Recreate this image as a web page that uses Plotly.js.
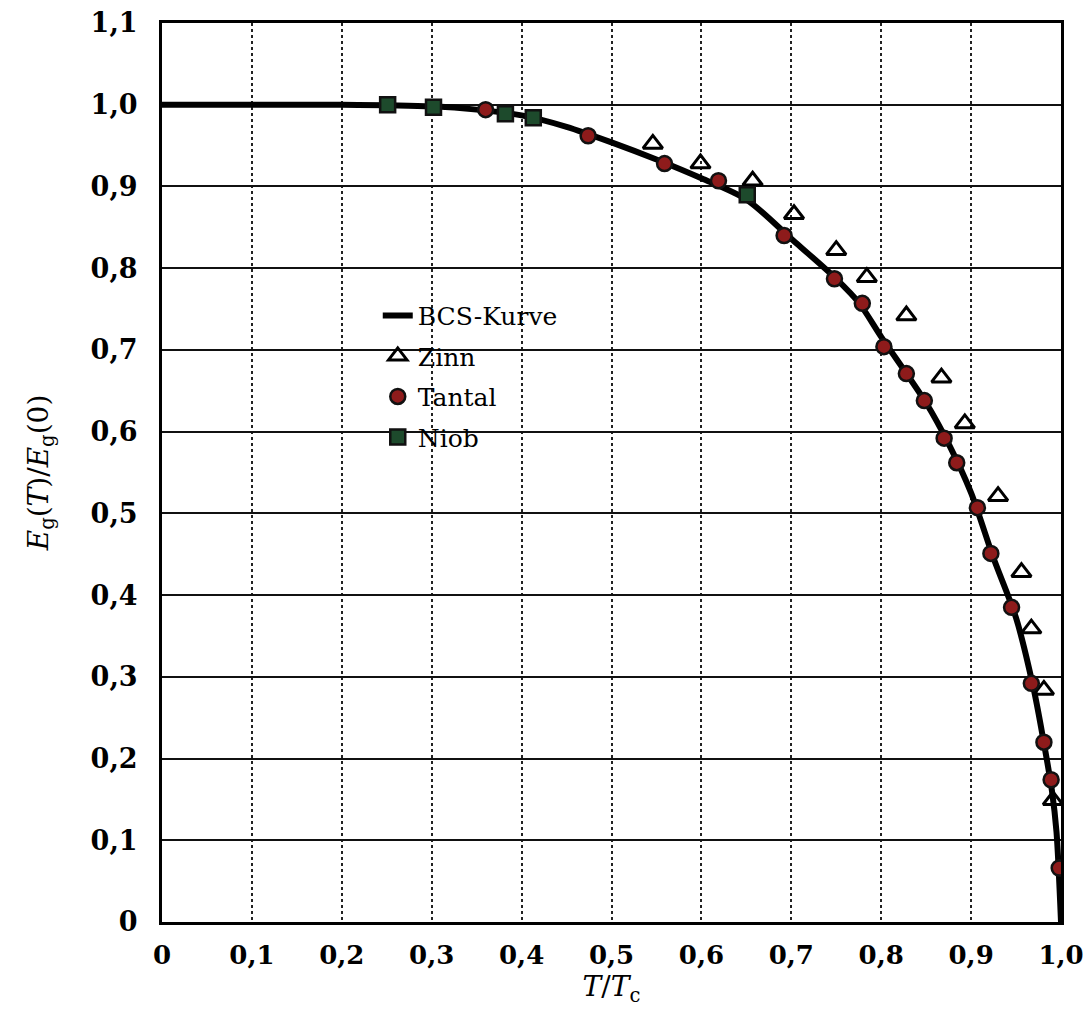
<!DOCTYPE html>
<html>
<head>
<meta charset="utf-8">
<script src="https://cdn.plot.ly/plotly-3.0.1.min.js"></script>
<style>html,body{margin:0;padding:0;background:#fff;}#chart{width:1090px;height:1029px;}</style>
</head>
<body>
<div id="chart"></div>
<script>
// BCS curve
const bcsX = [0, 0.2, 0.3, 0.35, 0.4, 0.45, 0.5, 0.55, 0.6, 0.65, 0.7, 0.75, 0.775, 0.8, 0.85, 0.875, 0.9, 0.925, 0.95, 0.97, 0.98, 0.99, 0.995, 1.0];
const bcsY = [1.0, 1.0, 0.998, 0.994, 0.987, 0.973, 0.954, 0.933, 0.91, 0.884, 0.836, 0.787, 0.758, 0.716, 0.635, 0.585, 0.525, 0.445, 0.372, 0.283, 0.225, 0.16, 0.11, 0.0];

// Zinn (tin) – open triangles
const zinnX = [0.546, 0.599, 0.657, 0.703, 0.750, 0.784, 0.828, 0.867, 0.893, 0.930, 0.956, 0.967, 0.981, 0.991];
const zinnY = [0.952, 0.928, 0.907, 0.866, 0.822, 0.789, 0.742, 0.666, 0.610, 0.521, 0.428, 0.359, 0.284, 0.149];

// Tantal – filled circles
const tantalX = [0.360, 0.474, 0.559, 0.619, 0.692, 0.748, 0.779, 0.803, 0.828, 0.848, 0.870, 0.884, 0.907, 0.922, 0.945, 0.967, 0.981, 0.989, 0.998];
const tantalY = [0.994, 0.962, 0.928, 0.907, 0.840, 0.787, 0.757, 0.704, 0.671, 0.638, 0.592, 0.562, 0.507, 0.451, 0.385, 0.292, 0.220, 0.174, 0.066];

// Niob – filled squares
const niobX = [0.251, 0.302, 0.382, 0.413, 0.651];
const niobY = [1.0, 0.997, 0.989, 0.984, 0.890];

const xTickVals = [0, 0.1, 0.2, 0.3, 0.4, 0.5, 0.6, 0.7, 0.8, 0.9, 1.0];
const xTickText = ['0', '0,1', '0,2', '0,3', '0,4', '0,5', '0,6', '0,7', '0,8', '0,9', '1,0'];
const yTickVals = [0, 0.1, 0.2, 0.3, 0.4, 0.5, 0.6, 0.7, 0.8, 0.9, 1.0, 1.1];
const yTickText = ['0', '0,1', '0,2', '0,3', '0,4', '0,5', '0,6', '0,7', '0,8', '0,9', '1,0', '1,1'];

const FONT = 'DejaVu Serif';

const traces = [
  {
    x: bcsX, y: bcsY, name: 'BCS-Kurve', type: 'scatter', mode: 'lines', legendgroup: 'a',
    line: {color: '#000', width: 6, shape: 'spline', smoothing: 0.8}
  },
  {
    x: zinnX, y: zinnY, name: 'Zinn', type: 'scatter', mode: 'markers', legendgroup: 'b',
    marker: {symbol: 'triangle-up-open', size: 17, color: '#000', line: {width: 3, color: '#000'}}
  },
  {
    x: tantalX, y: tantalY, name: 'Tantal', type: 'scatter', mode: 'markers', legendgroup: 'c',
    marker: {symbol: 'circle', size: 15, color: '#8e1b1b', line: {width: 2.5, color: '#111'}}
  },
  {
    x: niobX, y: niobY, name: 'Niob', type: 'scatter', mode: 'markers', legendgroup: 'd',
    marker: {symbol: 'square', size: 15, color: '#1d4a2c', line: {width: 2.5, color: '#111'}}
  }
];

const layout = {
  width: 1090, height: 1029,
  margin: {l: 162, r: 29, t: 23, b: 107, pad: 0},
  paper_bgcolor: '#fff', plot_bgcolor: '#fff',
  font: {family: FONT, color: '#000', size: 26},
  showlegend: true,
  legend: {
    x: 0.24, y: 0.7, xanchor: 'left', yanchor: 'top',
    bgcolor: 'rgba(255,255,255,0)', borderwidth: 0,
    font: {family: FONT, size: 25, color: '#000'},
    itemwidth: 30, tracegroupgap: 5, traceorder: 'grouped'
  },
  xaxis: {
    range: [0, 1.0], tickvals: xTickVals, ticktext: xTickText,
    showgrid: true, gridcolor: '#222', gridwidth: 2, griddash: 'dot',
    showline: true, linecolor: '#000', linewidth: 3, mirror: true,
    zeroline: false, ticks: '', ticklabelstandoff: 8,
    tickfont: {family: FONT, size: 26, color: '#000', weight: 'bold'},
    title: {text: '<i>T</i>/<i>T</i><sub>c</sub>', font: {family: FONT, size: 28, color: '#000'}, standoff: 6}
  },
  yaxis: {
    range: [0, 1.1], tickvals: yTickVals, ticktext: yTickText,
    showgrid: true, gridcolor: '#111', gridwidth: 2,
    showline: true, linecolor: '#000', linewidth: 3, mirror: true,
    zeroline: false, ticks: '', ticklabelstandoff: 16,
    tickfont: {family: FONT, size: 27, color: '#000', weight: 'bold'},
    title: {text: '<i>E</i><sub>g</sub>(<i>T</i>)/<i>E</i><sub>g</sub>(0)', font: {family: FONT, size: 28, color: '#000'}, standoff: 34}
  }
};

Plotly.newPlot('chart', traces, layout, {displayModeBar: false, staticPlot: true});
</script>
</body>
</html>
